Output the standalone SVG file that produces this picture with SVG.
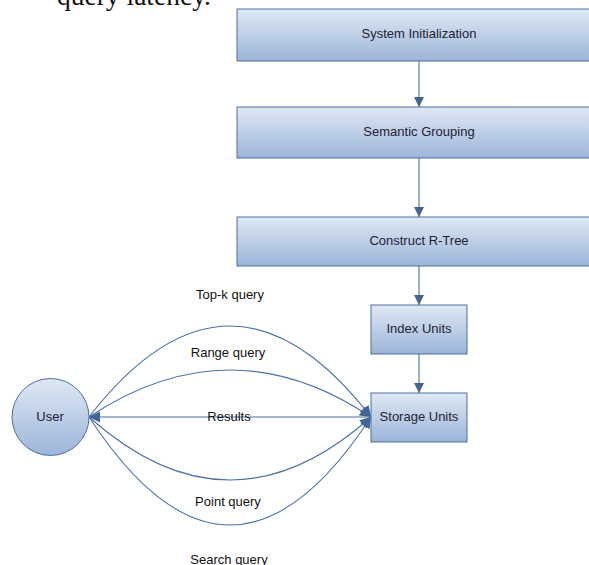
<svg xmlns="http://www.w3.org/2000/svg" width="589" height="565" viewBox="0 0 589 565">
<style>
.box{fill:url(#g);stroke:#4d6e9c;stroke-width:1}
.t{font-family:"Liberation Sans",Arial,sans-serif;font-size:13px;fill:#1f2233;text-anchor:middle}
.lbl{font-family:"Liberation Sans",Arial,sans-serif;font-size:13px;fill:#111;text-anchor:middle}
.c{fill:none;stroke:#4f72a0;stroke-width:1.1}
</style>
<defs>
<linearGradient id="g" x1="0" y1="0" x2="0" y2="1">
<stop offset="0" stop-color="#dfe8f4"/>
<stop offset="1" stop-color="#9cb5d9"/>
</linearGradient>
<marker id="a" viewBox="0 0 10 10" refX="10" refY="5" markerWidth="10" markerHeight="10" markerUnits="userSpaceOnUse" orient="auto">
<path d="M0,0 L10,5 L0,10 z" fill="#3f6596"/>
</marker>
<marker id="b" viewBox="0 0 10 10" refX="10" refY="5" markerWidth="14" markerHeight="11" markerUnits="userSpaceOnUse" orient="auto">
<path d="M0,0 L10,5 L0,10 z" fill="#3f6596"/>
</marker>
</defs>
<text x="57" y="5" font-family="'Liberation Serif','Times New Roman',serif" font-size="27.5" fill="#111">query latency.</text>
<g id="connectors">
<line class="c" x1="419" y1="61" x2="419" y2="107" marker-end="url(#a)"/>
<line class="c" x1="419" y1="158" x2="419" y2="217" marker-end="url(#a)"/>
<line class="c" x1="419" y1="266" x2="419" y2="305" marker-end="url(#a)"/>
<line class="c" x1="419" y1="354" x2="419" y2="393" marker-end="url(#a)"/>
<path class="c" d="M89,417 Q230,235 371,417" marker-end="url(#b)"/>
<path class="c" d="M89,417 Q230,323 371,417" marker-end="url(#b)"/>
<path class="c" d="M89,417 Q230,543 371,417" marker-end="url(#b)"/>
<path class="c" d="M89,417 Q230,633 371,417" marker-end="url(#b)"/>
<line class="c" x1="371" y1="417" x2="89" y2="417" marker-end="url(#b)"/>
<text class="lbl" x="230" y="299">Top-k query</text>
<text class="lbl" x="228" y="357">Range query</text>
<text class="lbl" x="229" y="421">Results</text>
<text class="lbl" x="228" y="506">Point query</text>
<text class="lbl" x="229" y="564">Search query</text>
</g>
<g id="sysinit"><rect class="box" x="237" y="9" width="364" height="52"/><text class="t" x="419" y="38">System Initialization</text></g>
<g id="semgroup"><rect class="box" x="237" y="107" width="364" height="51"/><text class="t" x="419" y="136">Semantic Grouping</text></g>
<g id="rtree"><rect class="box" x="237" y="217" width="364" height="49"/><text class="t" x="419" y="245">Construct R-Tree</text></g>
<g id="index"><rect class="box" x="371" y="305" width="96" height="49"/><text class="t" x="419" y="333">Index Units</text></g>
<g id="storage"><rect class="box" x="371" y="393" width="96" height="49"/><text class="t" x="419" y="421">Storage Units</text></g>
<g id="user"><circle cx="50.5" cy="417" r="38.5" fill="url(#g)" stroke="#4d6e9c"/><text class="t" x="50" y="421">User</text></g>
</svg>
